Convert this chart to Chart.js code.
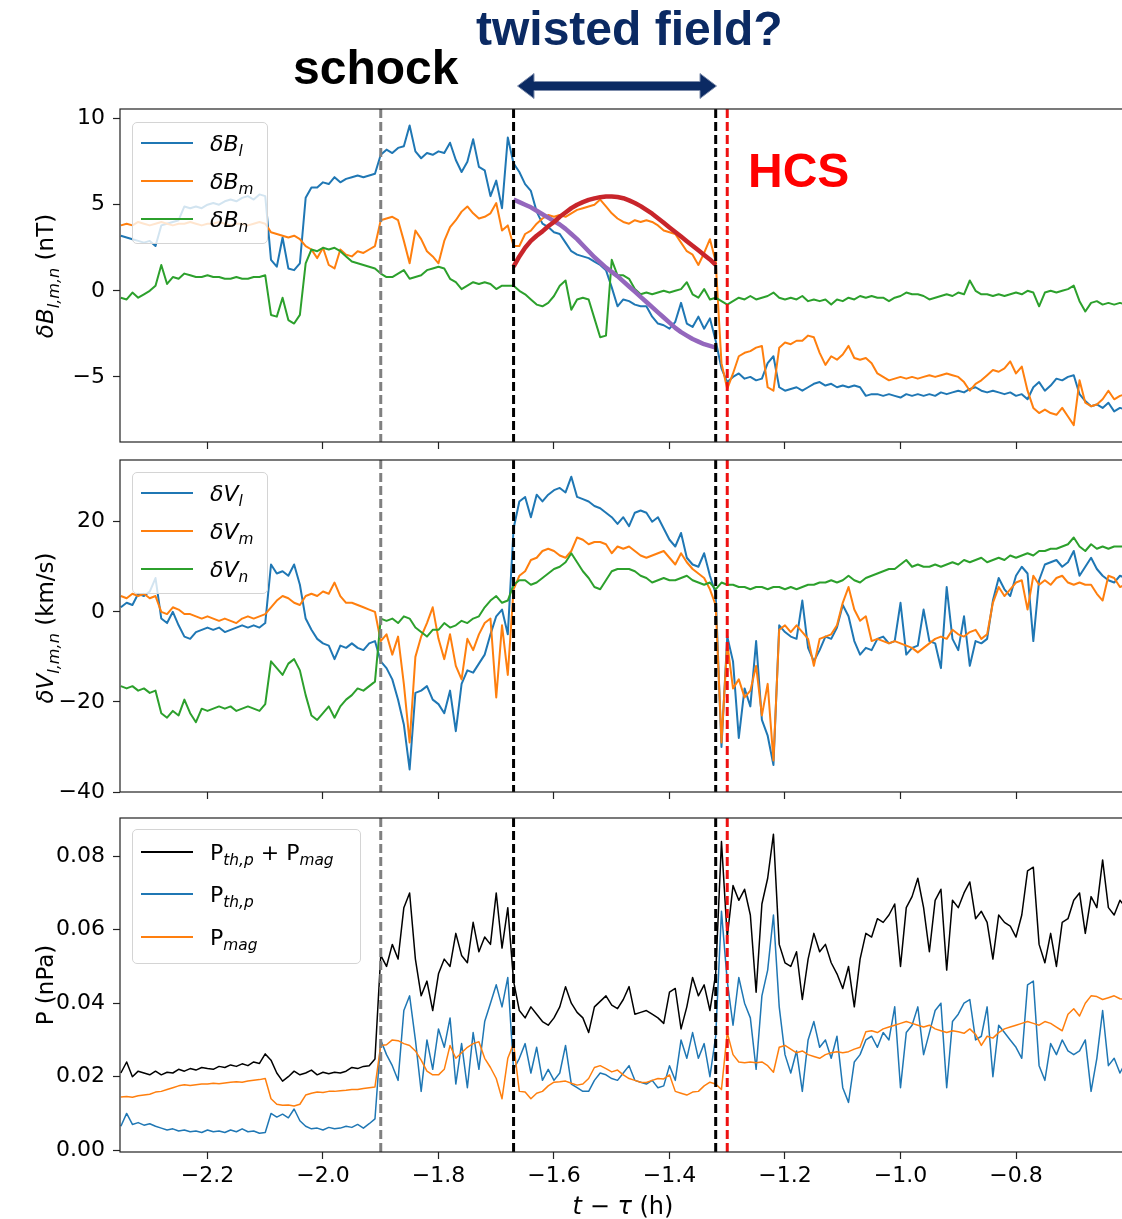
<!DOCTYPE html>
<html>
<head>
<meta charset="utf-8">
<script src="https://cdn.jsdelivr.net/npm/chart.js@4.4.0/dist/chart.umd.min.js"></script>
<style>
  html, body { margin: 0; padding: 0; background: #fff; overflow: hidden; }
  #wrap { position: relative; width: 1122px; height: 1219px; overflow: hidden; }
  canvas { position: absolute; left: 0; }
  .ann { position: absolute; font-family: 'Liberation Sans', Arial, sans-serif; font-weight: bold;
         font-size: 48px; line-height: 48px; white-space: nowrap; }
  .ylab { position: absolute; width: 320px; height: 30px; line-height: 30px; text-align: center;
          font-family: 'DejaVu Sans', sans-serif; font-size: 23px; transform: rotate(-90deg); white-space: nowrap; }
  .xlab { position: absolute; width: 300px; text-align: center; font-family: 'DejaVu Sans', sans-serif;
          font-size: 24px; line-height: 30px; white-space: nowrap; }
  .legend { position: absolute; background: rgba(255,255,255,0.8); border: 1px solid #d4d4d4;
            border-radius: 5px; box-sizing: border-box; }
  .legend .row { position: absolute; left: 0; right: 0; height: 30px; }
  .legend .sw { position: absolute; left: 8px; width: 52px; top: 14px; height: 2px; }
  .legend .lab { position: absolute; left: 77px; top: 1px; line-height: 30px; font-size: 22px;
                 font-family: 'DejaVu Sans', sans-serif; white-space: nowrap; }
  sub { font-size: 0.7em; vertical-align: -0.35em; line-height: 0; }
</style>
</head>
<body>
<div id="wrap">
  <canvas id="panelB" width="1130" height="450" style="top:0"></canvas>
  <canvas id="panelV" width="1130" height="350" style="top:450px"></canvas>
  <canvas id="panelP" width="1130" height="419" style="top:800px"></canvas>

  <div class="ann" style="left:293px; top:44px; color:#000;">schock</div>
  <div class="ann" style="left:476px; top:5px; color:#0b2a63;">twisted field?</div>
  <div class="ann" style="left:748px; top:147px; color:#ff0000;">HCS</div>
  <svg style="position:absolute; left:517px; top:73px;" width="200" height="26" viewBox="0 0 200 26">
    <path d="M0.5,13 L17,0.5 L17,8.5 L183,8.5 L183,0.5 L199.5,13 L183,25.5 L183,17.5 L17,17.5 L17,25.5 Z"
          fill="#0b2a63" stroke="#7d8cab" stroke-width="1"/>
  </svg>

  <div class="ylab" style="left:-115px; top:261px;"><i>δB</i><sub><i>l,m,n</i></sub> (nT)</div>
  <div class="ylab" style="left:-115px; top:613px;"><i>δV</i><sub><i>l,m,n</i></sub> (km/s)</div>
  <div class="ylab" style="left:-115px; top:970px;">P (nPa)</div>
  <div class="xlab" style="left:473px; top:1191px;"><i>t</i> − <i>τ</i> (h)</div>

  <div class="legend" style="left:132px; top:122px; width:136px; height:122px;">
    <div class="row" style="top:5px"><div class="sw" style="background:#1f77b4"></div><div class="lab"><i>δB</i><sub><i>l</i></sub></div></div>
    <div class="row" style="top:43px"><div class="sw" style="background:#ff7f0e"></div><div class="lab"><i>δB</i><sub><i>m</i></sub></div></div>
    <div class="row" style="top:81px"><div class="sw" style="background:#2ca02c"></div><div class="lab"><i>δB</i><sub><i>n</i></sub></div></div>
  </div>
  <div class="legend" style="left:132px; top:472px; width:136px; height:122px;">
    <div class="row" style="top:5px"><div class="sw" style="background:#1f77b4"></div><div class="lab"><i>δV</i><sub><i>l</i></sub></div></div>
    <div class="row" style="top:43px"><div class="sw" style="background:#ff7f0e"></div><div class="lab"><i>δV</i><sub><i>m</i></sub></div></div>
    <div class="row" style="top:81px"><div class="sw" style="background:#2ca02c"></div><div class="lab"><i>δV</i><sub><i>n</i></sub></div></div>
  </div>
  <div class="legend" style="left:132px; top:829px; width:229px; height:135px;">
    <div class="row" style="top:7px"><div class="sw" style="background:#000; height:1.5px"></div><div class="lab">P<sub><i>th,p</i></sub> + P<sub><i>mag</i></sub></div></div>
    <div class="row" style="top:49px"><div class="sw" style="background:#1f77b4; height:1.5px"></div><div class="lab">P<sub><i>th,p</i></sub></div></div>
    <div class="row" style="top:92px"><div class="sw" style="background:#ff7f0e; height:1.5px"></div><div class="lab">P<sub><i>mag</i></sub></div></div>
  </div>
</div>

<script>
// sampling grid of the series (hours relative to tau)
const tStart = -2.35;
const tStep = 0.01;
const fitStart = -1.67;

// x axis
const tMin = -2.3515;
const tMax = -0.6026;
const timeTicks = [-2.2, -2.0, -1.8, -1.6, -1.4, -1.2, -1.0, -0.8];

// event markers: shock, start/end of twisted field, HCS
const markerTimes = [-1.90, -1.67, -1.32, -1.30];
const markerColors = ['#808080', '#000000', '#000000', '#ee1111'];

// magnetic field fluctuations (nT)
const dBl = [
  3.2, 3.1, 3.0, 2.9, 2.8, 2.9, 2.6, 3.8, 3.9, 4.0,
  4.1, 4.9, 4.8, 4.9, 4.8, 5.0, 5.1, 5.0, 5.2, 5.3,
  5.2, 5.4, 5.5, 5.3, 5.6, 5.5, 1.8, 1.4, 3.1, 1.3,
  1.2, 1.6, 5.4, 6.0, 6.0, 6.3, 6.2, 6.6, 6.3, 6.5,
  6.6, 6.7, 6.6, 6.7, 6.8, 7.9, 8.2, 8.0, 8.3, 8.4,
  9.6, 8.1, 7.7, 8.0, 7.9, 8.1, 8.0, 8.6, 7.6, 6.9,
  7.5, 8.8, 7.2, 7.0, 5.5, 6.4, 4.8, 8.9, 7.4, 6.9,
  6.2, 5.8, 4.6, 3.9, 3.7, 3.4, 3.3, 2.8, 2.3, 2.1,
  2.0, 1.9, 1.7, 1.5, 1.2, 0.2, -0.9, -0.5, -0.6, -0.8,
  -0.9, -0.9, -1.5, -1.9, -2.0, -2.2, -1.8, -0.7, -1.9, -2.1,
  -1.5, -2.2, -1.6, -2.9, -4.5, -5.3, -5.0, -4.8, -5.1, -5.0,
  -5.2, -5.1, -4.2, -3.8, -5.6, -5.8, -5.7, -5.6, -5.8, -5.6,
  -5.4, -5.3, -5.5, -5.4, -5.6, -5.5, -5.6, -5.5, -5.6, -6.1,
  -6.0, -6.0, -6.1, -6.0, -6.1, -6.2, -6.0, -6.1, -6.0, -6.1,
  -6.0, -6.1, -5.9, -6.0, -5.9, -5.8, -5.9, -5.7, -5.6, -5.8,
  -5.9, -5.8, -5.9, -6.0, -5.9, -6.1, -6.0, -6.3, -5.6, -5.3,
  -5.8, -5.5, -5.1, -5.2, -5.0, -4.9, -6.0, -6.4, -6.7, -6.6,
  -6.8, -6.5, -7.0, -6.8, -6.9
];
const dBm = [
  3.8, 3.9, 3.8, 4.0, 3.9, 3.8, 3.9, 4.0, 3.9, 3.8,
  3.9, 3.9, 4.0, 3.9, 3.8, 3.9, 3.9, 4.0, 3.9, 3.8,
  3.9, 3.9, 3.8, 3.9, 4.0, 3.9, 3.4, 3.3, 3.2, 3.1,
  3.2, 3.0, 2.6, 2.4, 1.9, 2.5, 1.5, 1.3, 2.4, 2.1,
  2.0, 2.3, 2.2, 2.4, 2.6, 4.1, 4.2, 4.3, 4.1, 2.9,
  1.6, 3.5, 3.0, 2.3, 2.0, 1.6, 2.9, 3.7, 4.1, 4.6,
  4.9, 4.5, 4.2, 4.3, 4.5, 5.1, 3.5, 3.8, 2.6, 2.6,
  3.3, 3.5, 3.9, 4.2, 4.4, 4.3, 4.4, 4.3, 4.5, 4.7,
  4.8, 4.9, 5.0, 5.3, 4.9, 4.5, 4.2, 4.0, 3.9, 4.1,
  4.0, 4.1, 4.0, 3.8, 3.5, 3.4, 3.3, 2.8, 2.3, 2.1,
  1.5, 2.2, 3.0, 1.7, -4.2, -5.7, -4.8, -3.8, -3.6, -3.5,
  -3.3, -3.2, -5.6, -5.8, -3.3, -3.0, -3.1, -2.9, -2.9, -2.6,
  -2.7, -3.6, -4.3, -3.8, -4.0, -3.7, -3.2, -3.9, -4.0, -3.9,
  -4.2, -4.8, -5.0, -5.2, -5.1, -5.0, -5.1, -5.0, -5.1, -5.0,
  -4.9, -5.0, -4.9, -4.8, -4.9, -5.0, -5.3, -5.8, -5.4, -5.2,
  -4.9, -4.6, -4.7, -4.5, -4.1, -4.8, -4.4, -5.8, -6.8, -7.1,
  -6.9, -7.1, -7.2, -6.8, -7.3, -7.8, -5.2, -6.5, -6.7, -6.6,
  -6.3, -5.8, -6.3, -6.1, -6.0
];
const dBn = [
  -0.4, -0.5, -0.1, -0.4, -0.2, 0.0, 0.3, 1.5, 0.4, 0.8,
  0.7, 1.0, 0.9, 0.8, 0.8, 0.9, 0.8, 0.8, 0.7, 0.7,
  0.8, 0.7, 0.7, 0.8, 0.8, 0.9, -1.4, -1.5, -0.4, -1.7,
  -1.9, -1.4, 1.6, 2.4, 2.3, 2.5, 2.4, 2.5, 2.3, 2.0,
  1.7, 1.6, 1.5, 1.4, 1.3, 1.0, 0.8, 0.8, 1.0, 1.2,
  0.7, 0.8, 0.9, 1.2, 1.3, 1.4, 1.3, 0.7, 0.5, 0.1,
  0.3, 0.5, 0.4, 0.5, 0.4, 0.1, 0.3, 0.3, 0.3, 0.0,
  -0.2, -0.5, -0.8, -0.9, -0.7, -0.3, 0.3, 0.6, -1.1, -0.5,
  -0.4, -0.5, -1.6, -2.7, -2.6, 1.8, 0.9, 0.9, 0.7, 0.1,
  -0.2, -0.1, -0.2, -0.1, 0.0, -0.1, 0.0, 0.1, 0.5, -0.2,
  -0.4, 0.1, -0.5, -0.4, -0.6, -0.8, -0.6, -0.4, -0.5, -0.3,
  -0.5, -0.4, -0.3, -0.1, -0.4, -0.5, -0.4, -0.5, -0.3, -0.6,
  -0.5, -0.6, -0.5, -0.8, -0.5, -0.6, -0.4, -0.5, -0.3, -0.4,
  -0.3, -0.4, -0.4, -0.6, -0.4, -0.3, -0.1, -0.2, -0.2, -0.3,
  -0.5, -0.4, -0.3, -0.2, -0.3, -0.1, -0.2, 0.6, 0.0, -0.2,
  -0.2, -0.3, -0.2, -0.3, -0.2, -0.1, -0.2, 0.0, -0.1, -0.9,
  -0.1, 0.0, -0.1, 0.0, 0.1, 0.3, -0.6, -1.2, -0.7, -0.6,
  -0.8, -0.7, -0.8, -0.7, -0.8
];
// flux-rope fits over the twisted-field interval
const fitBm = [
  1.4, 2.0, 2.5, 2.9, 3.2, 3.45, 3.75, 4.0, 4.3, 4.55,
  4.8, 5.0, 5.15, 5.28, 5.37, 5.44, 5.48, 5.48, 5.45, 5.38,
  5.25, 5.1, 4.92, 4.7, 4.48, 4.22, 3.95, 3.68, 3.42, 3.15,
  2.88, 2.62, 2.35, 2.08, 1.82, 1.5
];
const fitBl = [
  5.3, 5.15, 5.0, 4.85, 4.65, 4.45, 4.25, 4.05, 3.85, 3.6,
  3.3, 3.0, 2.65, 2.3, 1.95, 1.65, 1.35, 1.1, 0.85, 0.55,
  0.25, -0.05, -0.35, -0.65, -0.95, -1.25, -1.55, -1.85, -2.15, -2.4,
  -2.6, -2.8, -2.95, -3.1, -3.2, -3.3
];

// velocity fluctuations (km/s)
const dVl = [
  1.0, 2.0, 1.5, 4.0, 3.5, 4.5, 7.5, -1.5, -2.5, 0.0,
  -3.0, -5.5, -6.0, -4.5, -4.0, -3.5, -4.0, -3.5, -4.5, -4.0,
  -3.5, -3.0, -3.5, -3.0, -3.5, -2.5, 10.5, 8.5, 9.0, 8.0,
  10.5, 6.0, -1.5, -4.0, -6.0, -7.0, -7.5, -10.5, -7.5, -8.0,
  -7.0, -8.0, -8.5, -7.0, -6.5, -11.0, -12.5, -15.0, -19.5, -25.0,
  -35.0, -18.0, -17.5, -16.5, -19.5, -20.5, -22.5, -17.5, -26.5, -16.0,
  -13.0, -13.5, -11.5, -9.5, -5.0, -1.0, 0.5, -5.0, 18.5, 24.5,
  25.5, 21.0, 26.0, 24.5, 26.0, 27.0, 27.5, 26.5, 30.0, 25.5,
  25.0, 24.5, 23.5, 23.0, 22.0, 21.0, 19.5, 21.0, 19.0, 22.0,
  22.5, 22.0, 20.0, 21.0, 18.5, 16.0, 14.5, 17.5, 12.0, 10.5,
  10.0, 13.0, 8.0, 4.0, -30.0, -5.5, -11.0, -28.0, -17.0, -21.0,
  -6.5, -24.0, -27.5, -34.0, -3.0, -4.5, -5.5, -6.0, 2.5, -8.0,
  -11.0, -8.5, -5.5, -6.0, -3.5, 1.5, -1.0, -6.5, -9.5, -8.0,
  -8.5, -6.0, -5.5, -7.0, -6.5, 2.0, -9.5, -8.0, -7.5, 0.5,
  -6.5, -7.0, -12.5, 5.5, -6.0, -8.5, -1.0, -12.0, -6.5, -7.0,
  -6.0, 2.5, 7.5, 5.0, 3.5, 8.0, 10.0, 8.5, -6.5, 7.0,
  10.5, 11.0, 11.5, 10.0, 11.0, 13.5, 8.0, 10.0, 12.0, 9.5,
  8.0, 7.0, 6.5, 8.0, 7.5
];
const dVm = [
  3.5, 3.0, 4.0, 3.5, 4.0, 3.0, 3.5, 0.0, -0.5, 1.0,
  0.5, -0.5, -0.5, -1.0, -1.5, -1.0, -1.5, -2.0, -1.5, -2.0,
  -2.5, -1.5, -1.0, -1.5, -1.0, -0.5, 1.0, 2.5, 3.5, 3.0,
  2.0, 1.5, 3.5, 4.0, 3.5, 4.5, 4.0, 6.5, 3.5, 2.0,
  2.0, 1.5, 1.0, 0.5, 0.0, -6.5, -5.0, -9.5, -5.5, -16.0,
  -29.0, -10.0, -5.5, -2.5, 1.0, -6.0, -10.5, -5.0, -12.0, -15.0,
  -6.0, -8.5, -5.0, -2.5, -1.5, -19.0, -3.0, -14.0, 5.0, 8.0,
  9.0, 11.5, 12.0, 13.5, 14.0, 13.5, 12.5, 12.0, 13.5, 16.5,
  16.0, 15.0, 15.5, 15.5, 15.0, 13.0, 14.5, 14.0, 14.5, 13.5,
  12.5, 12.0, 12.5, 13.0, 13.5, 12.0, 10.5, 13.0, 11.0, 9.5,
  8.5, 7.5, 5.0, 1.5, -29.0, -7.0, -17.0, -15.0, -19.0, -17.5,
  -12.0, -23.0, -16.0, -33.0, -4.0, -3.0, -4.5, -3.0, -4.5, -6.0,
  -12.0, -6.0, -5.5, -5.0, -3.0, 2.0, 5.5, 0.5, -2.0, -1.0,
  -6.5, -6.0, -6.5, -7.0, -6.5, -7.0, -7.5, -8.0, -9.0, -8.0,
  -7.0, -6.0, -5.5, -6.0, -4.0, -5.0, -5.5, -4.5, -4.0, -6.0,
  -5.0, 2.0, 5.5, 3.5, 5.0, 6.5, 7.0, 0.5, 8.0, 6.0,
  7.0, 6.0, 7.5, 8.0, 6.5, 6.0, 6.5, 6.0, 6.0, 4.0,
  2.5, 8.0, 7.5, 5.5, 6.0
];
const dVn = [
  -16.5, -17.0, -16.5, -17.5, -17.0, -18.0, -17.5, -22.5, -23.5, -22.0,
  -23.0, -19.5, -22.5, -24.5, -21.5, -22.0, -21.5, -21.0, -21.5, -21.0,
  -22.0, -21.5, -21.0, -21.5, -22.0, -20.5, -11.0, -12.5, -14.0, -11.5,
  -10.5, -13.0, -18.5, -23.0, -24.0, -22.5, -21.0, -23.5, -21.0, -19.5,
  -18.5, -17.0, -17.5, -16.5, -15.5, -1.5, -2.0, -1.5, -2.5, -1.0,
  -1.5, -3.5, -4.5, -5.5, -4.0, -4.0, -2.5, -3.5, -3.0, -2.0,
  -2.5, -1.5, -1.0, 1.0, 2.5, 3.5, 2.0, 2.5, 6.0, 7.0,
  7.0, 6.0, 6.5, 7.5, 8.5, 9.5, 10.0, 11.0, 13.0, 11.0,
  9.0, 7.5, 5.5, 5.0, 7.0, 9.0, 9.5, 9.5, 9.5, 9.0,
  8.0, 7.5, 6.5, 7.0, 7.5, 7.0, 7.0, 7.5, 8.0, 7.0,
  6.5, 6.0, 6.5, 5.0, 6.5, 6.0, 6.0, 5.5, 5.5, 5.0,
  5.5, 5.5, 5.0, 5.5, 5.5, 5.0, 5.5, 5.0, 5.5, 6.0,
  6.0, 6.5, 6.5, 7.0, 6.5, 7.0, 8.0, 7.0, 6.5, 7.5,
  8.0, 8.5, 9.0, 9.5, 9.5, 10.5, 11.5, 10.0, 10.5, 10.0,
  10.0, 10.5, 10.0, 10.5, 11.0, 10.5, 11.5, 11.0, 11.5, 12.0,
  11.0, 11.5, 12.0, 11.5, 12.5, 12.0, 12.5, 13.0, 12.5, 13.5,
  13.5, 14.0, 14.0, 14.5, 15.0, 16.5, 14.5, 13.5, 15.0, 14.0,
  14.5, 14.0, 14.5, 14.5, 14.5
];

// pressures (nPa)
const pTot = [
  0.0210, 0.0240, 0.0200, 0.0215, 0.0210, 0.0205, 0.0215, 0.0205, 0.0212, 0.0210,
  0.0220, 0.0215, 0.0222, 0.0218, 0.0225, 0.0222, 0.0220, 0.0228, 0.0225, 0.0232,
  0.0228, 0.0235, 0.0230, 0.0240, 0.0236, 0.0262, 0.0245, 0.0210, 0.0188, 0.0200,
  0.0215, 0.0205, 0.0210, 0.0218, 0.0205, 0.0212, 0.0208, 0.0212, 0.0210, 0.0215,
  0.0225, 0.0222, 0.0228, 0.0230, 0.0248, 0.0530, 0.0500, 0.0560, 0.0520, 0.0660,
  0.0700, 0.0520, 0.0420, 0.0460, 0.0380, 0.0480, 0.0520, 0.0500, 0.0590, 0.0530,
  0.0510, 0.0620, 0.0540, 0.0580, 0.0560, 0.0700, 0.0550, 0.0660, 0.0460, 0.0380,
  0.0360, 0.0390, 0.0370, 0.0350, 0.0340, 0.0360, 0.0390, 0.0445, 0.0400, 0.0375,
  0.0360, 0.0320, 0.0390, 0.0405, 0.0420, 0.0395, 0.0385, 0.0410, 0.0445, 0.0370,
  0.0375, 0.0380, 0.0370, 0.0360, 0.0345, 0.0430, 0.0440, 0.0330, 0.0390, 0.0470,
  0.0420, 0.0450, 0.0380, 0.0480, 0.0840, 0.0580, 0.0720, 0.0680, 0.0710, 0.0640,
  0.0430, 0.0670, 0.0740, 0.0860, 0.0560, 0.0510, 0.0500, 0.0540, 0.0410, 0.0520,
  0.0590, 0.0540, 0.0560, 0.0510, 0.0480, 0.0440, 0.0500, 0.0390, 0.0520, 0.0590,
  0.0580, 0.0630, 0.0620, 0.0640, 0.0670, 0.0500, 0.0660, 0.0690, 0.0740, 0.0660,
  0.0540, 0.0680, 0.0710, 0.0490, 0.0680, 0.0660, 0.0700, 0.0730, 0.0630, 0.0650,
  0.0620, 0.0520, 0.0640, 0.0620, 0.0610, 0.0580, 0.0640, 0.0760, 0.0770, 0.0560,
  0.0510, 0.0590, 0.0500, 0.0620, 0.0630, 0.0680, 0.0700, 0.0590, 0.0690, 0.0660,
  0.0790, 0.0660, 0.0640, 0.0680, 0.0660
];
const pTh = [
  0.0065, 0.0100, 0.0070, 0.0075, 0.0068, 0.0072, 0.0065, 0.0060, 0.0055, 0.0058,
  0.0052, 0.0055, 0.0050, 0.0052, 0.0048, 0.0055, 0.0050, 0.0052, 0.0048, 0.0055,
  0.0050, 0.0058, 0.0050, 0.0052, 0.0046, 0.0048, 0.0100, 0.0090, 0.0098, 0.0088,
  0.0112, 0.0080, 0.0065, 0.0058, 0.0060, 0.0055, 0.0062, 0.0058, 0.0060, 0.0065,
  0.0062, 0.0070, 0.0060, 0.0072, 0.0085, 0.0300, 0.0260, 0.0230, 0.0190, 0.0380,
  0.0420, 0.0300, 0.0160, 0.0300, 0.0220, 0.0330, 0.0280, 0.0360, 0.0180, 0.0290,
  0.0170, 0.0320, 0.0220, 0.0350, 0.0400, 0.0450, 0.0390, 0.0470, 0.0220, 0.0250,
  0.0290, 0.0210, 0.0280, 0.0190, 0.0220, 0.0190, 0.0210, 0.0285, 0.0180, 0.0170,
  0.0160, 0.0160, 0.0190, 0.0210, 0.0205, 0.0195, 0.0190, 0.0210, 0.0230, 0.0190,
  0.0185, 0.0180, 0.0190, 0.0170, 0.0175, 0.0230, 0.0190, 0.0300, 0.0250, 0.0320,
  0.0250, 0.0290, 0.0200, 0.0310, 0.0650, 0.0460, 0.0340, 0.0470, 0.0400, 0.0360,
  0.0220, 0.0420, 0.0490, 0.0640, 0.0390, 0.0260, 0.0210, 0.0270, 0.0160, 0.0300,
  0.0350, 0.0280, 0.0300, 0.0250, 0.0310, 0.0170, 0.0130, 0.0240, 0.0260, 0.0300,
  0.0310, 0.0280, 0.0320, 0.0300, 0.0390, 0.0170, 0.0320, 0.0340, 0.0390, 0.0260,
  0.0320, 0.0380, 0.0400, 0.0170, 0.0350, 0.0370, 0.0400, 0.0410, 0.0300, 0.0310,
  0.0390, 0.0200, 0.0340, 0.0320, 0.0300, 0.0280, 0.0250, 0.0450, 0.0460, 0.0230,
  0.0190, 0.0290, 0.0260, 0.0300, 0.0270, 0.0260, 0.0270, 0.0300, 0.0160, 0.0250,
  0.0380, 0.0230, 0.0250, 0.0210, 0.0240
];
const pMag = [
  0.0145, 0.0146, 0.0144, 0.0148, 0.0150, 0.0152, 0.0158, 0.0160, 0.0165, 0.0170,
  0.0175, 0.0178, 0.0176, 0.0178, 0.0180, 0.0180, 0.0182, 0.0181, 0.0183, 0.0185,
  0.0186, 0.0185, 0.0188, 0.0190, 0.0192, 0.0195, 0.0140, 0.0125, 0.0122, 0.0123,
  0.0120, 0.0125, 0.0150, 0.0155, 0.0158, 0.0157, 0.0160, 0.0160, 0.0162, 0.0163,
  0.0165, 0.0165, 0.0168, 0.0170, 0.0172, 0.0285, 0.0287, 0.0300, 0.0298, 0.0290,
  0.0285, 0.0270, 0.0245, 0.0215, 0.0205, 0.0205, 0.0220, 0.0285, 0.0250, 0.0265,
  0.0280, 0.0290, 0.0295, 0.0250, 0.0225, 0.0195, 0.0140, 0.0250, 0.0290, 0.0160,
  0.0158, 0.0140, 0.0155, 0.0160, 0.0175, 0.0185, 0.0186, 0.0188, 0.0182, 0.0177,
  0.0180, 0.0195, 0.0225, 0.0230, 0.0222, 0.0213, 0.0218, 0.0205, 0.0195, 0.0190,
  0.0185, 0.0184, 0.0190, 0.0195, 0.0194, 0.0205, 0.0160, 0.0155, 0.0150, 0.0158,
  0.0160, 0.0175, 0.0185, 0.0180, 0.0165, 0.0320, 0.0260, 0.0240, 0.0238, 0.0240,
  0.0238, 0.0240, 0.0230, 0.0212, 0.0280, 0.0285, 0.0275, 0.0265, 0.0270, 0.0260,
  0.0255, 0.0250, 0.0260, 0.0265, 0.0268, 0.0265, 0.0268, 0.0275, 0.0280, 0.0322,
  0.0325, 0.0320, 0.0330, 0.0335, 0.0340, 0.0345, 0.0350, 0.0345, 0.0340, 0.0335,
  0.0340, 0.0330, 0.0325, 0.0320, 0.0325, 0.0322, 0.0318, 0.0330, 0.0315, 0.0285,
  0.0310, 0.0305, 0.0320, 0.0330, 0.0335, 0.0340, 0.0345, 0.0350, 0.0345, 0.0340,
  0.0350, 0.0345, 0.0335, 0.0325, 0.0370, 0.0385, 0.0365, 0.0400, 0.0420, 0.0418,
  0.0410, 0.0415, 0.0420, 0.0412, 0.0410
];

// y axis ranges and ticks of the three panels
const bRange = [-8.78, 10.56];
const bTicks = [-5, 0, 5, 10];
const vRange = [-40, 33.7];
const vTicks = [-40, -20, 0, 20];
const pRange = [-0.0005, 0.0904];
const pTicks = [0, 0.02, 0.04, 0.06, 0.08];

Chart.defaults.font.family = "'DejaVu Sans', sans-serif";
Chart.defaults.color = '#000';

const minus = s => s.replace('-', '\u2212');

function series(values, color, width, order, t0 = tStart) {
  return {
    data: values.map((v, i) => ({ x: +(t0 + i * tStep).toFixed(3), y: v })),
    borderColor: color,
    borderWidth: width,
    borderJoinStyle: 'round',
    pointRadius: 0,
    order: order
  };
}

function markers(range) {
  return markerTimes.map((t, k) => ({
    data: [{ x: t, y: range[1] }, { x: t, y: range[0] }],
    borderColor: markerColors[k],
    borderWidth: 3,
    borderDash: [9, 4],
    pointRadius: 0,
    order: 0
  }));
}

// black frame round the plotting area, drawn over the curves
const framePlugin = {
  id: 'frame',
  afterDatasetsDraw(chart) {
    const { ctx, chartArea: a } = chart;
    ctx.save();
    ctx.strokeStyle = '#222';
    ctx.lineWidth = 1.2;
    ctx.strokeRect(a.left, a.top, a.right - a.left, a.bottom - a.top);
    ctx.restore();
  }
};

function panel(id, datasets, range, ticks, fmt, opts) {
  return new Chart(document.getElementById(id), {
    type: 'line',
    data: { datasets },
    options: {
      responsive: false,
      animation: false,
      events: [],
      layout: { padding: { top: opts.padTop, left: 0, right: 0, bottom: 0 } },
      plugins: { legend: { display: false }, tooltip: { enabled: false } },
      scales: {
        x: {
          type: 'linear', min: tMin, max: tMax,
          afterBuildTicks: s => { s.ticks = timeTicks.map(v => ({ value: v })); },
          afterFit: s => { s.height = opts.xHeight; s.paddingLeft = 0; s.paddingRight = 0; },
          border: { display: false },
          grid: { drawOnChartArea: false, drawTicks: true, tickLength: 7, tickColor: '#222', tickWidth: 1.2 },
          ticks: {
            display: opts.showX, padding: 4, autoSkip: false, maxRotation: 0,
            font: { size: 22 }, color: '#000',
            callback: v => minus(v.toFixed(1))
          }
        },
        y: {
          type: 'linear', min: range[0], max: range[1],
          afterBuildTicks: s => { s.ticks = ticks.map(v => ({ value: v })); },
          afterFit: s => { s.width = 120; s.paddingTop = 0; s.paddingBottom = 0; },
          border: { display: false },
          grid: { drawOnChartArea: false, drawTicks: true, tickLength: 7, tickColor: '#222', tickWidth: 1.2 },
          ticks: { padding: 8, font: { size: 22 }, color: '#000', callback: fmt }
        }
      }
    },
    plugins: [framePlugin]
  });
}

panel('panelB', [
  ...markers(bRange),
  series(fitBm, '#c8252b', 4.5, 1, fitStart),
  series(fitBl, '#9467bd', 4.5, 1, fitStart),
  series(dBn, '#2ca02c', 2, 2),
  series(dBm, '#ff7f0e', 2, 3),
  series(dBl, '#1f77b4', 2, 4)
], bRange, bTicks, v => minus(String(v)), { padTop: 109, xHeight: 8, showX: false });

panel('panelV', [
  ...markers(vRange),
  series(dVn, '#2ca02c', 2, 2),
  series(dVm, '#ff7f0e', 2, 3),
  series(dVl, '#1f77b4', 2, 4)
], vRange, vTicks, v => minus(String(v)), { padTop: 10, xHeight: 8, showX: false });

panel('panelP', [
  ...markers(pRange),
  series(pMag, '#ff7f0e', 1.5, 2),
  series(pTh, '#1f77b4', 1.5, 3),
  series(pTot, '#000000', 1.5, 4)
], pRange, pTicks, v => v.toFixed(2), { padTop: 18, xHeight: 67, showX: true });
</script>
</body>
</html>
